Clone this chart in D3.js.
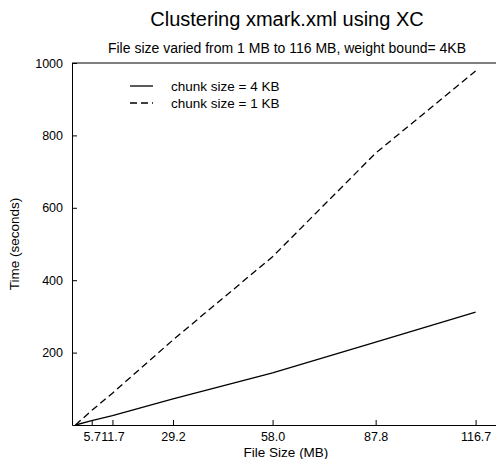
<!DOCTYPE html>
<html>
<head>
<meta charset="utf-8">
<title>Clustering xmark.xml using XC</title>
<script src="https://d3js.org/d3.v7.min.js"></script>
<style>
  body { margin: 0; background: #fff; }
  text { font-family: "Liberation Sans", Arial, Helvetica, sans-serif; fill: #000; }
</style>
</head>
<body>
<div id="wrapper"></div>
<script>
// file sizes (MB) and times (seconds)
const fileSizes = [1, 5.7, 11.7, 29.2, 58.0, 87.8, 116.7];
const chunk4KB  = [0, 12, 26, 72, 144, 229, 312];
const chunk1KB  = [0, 40, 88, 235, 465, 751, 978];
const xTicks = [5.7, 11.7, 29.2, 58.0, 87.8, 116.7];
const yTicks = [200, 400, 600, 800, 1000];
const seriesNames = ["chunk size = 4 KB", "chunk size = 1 KB"];

const dimensions = {
  width: 496,
  height: 459,
  margin: { top: 63, right: 0, bottom: 34, left: 72 }
};
dimensions.boundedWidth = dimensions.width - dimensions.margin.left - dimensions.margin.right;
dimensions.boundedHeight = dimensions.height - dimensions.margin.top - dimensions.margin.bottom;

const wrapper = d3.select("#wrapper").append("svg")
  .attr("width", dimensions.width)
  .attr("height", dimensions.height);

const bounds = wrapper.append("g")
  .attr("transform", `translate(${dimensions.margin.left},${dimensions.margin.top})`);

// x scale runs past the right edge of the picture (plot frame is cut off there)
const xScale = d3.scaleLinear().domain([0, 122.6]).range([0, dimensions.boundedWidth]);
const yScale = d3.scaleLinear().domain([0, 1000]).range([dimensions.boundedHeight, 0]);

const series = [
  { name: seriesNames[0], values: chunk4KB, dash: null },
  { name: seriesNames[1], values: chunk1KB, dash: "7,4" }
];

const lineGenerator = d3.line()
  .x((d, i) => xScale(fileSizes[i]))
  .y(d => yScale(d));

series.forEach(s => {
  bounds.append("path")
    .attr("d", lineGenerator(s.values))
    .attr("fill", "none")
    .attr("stroke", "#000")
    .attr("stroke-width", 1.3)
    .attr("stroke-dasharray", s.dash);
});

// axes, ticks pointing inward
const xAxis = bounds.append("g")
  .attr("transform", `translate(0,${dimensions.boundedHeight})`)
  .call(d3.axisBottom(xScale).tickValues(xTicks).tickFormat(d3.format(".1f"))
    .tickSizeInner(-5).tickSizeOuter(0).tickPadding(7));

const yAxis = bounds.append("g")
  .call(d3.axisLeft(yScale).tickValues(yTicks).tickFormat(d3.format("d"))
    .tickSizeInner(-5).tickSizeOuter(0).tickPadding(9));

[xAxis, yAxis].forEach(a => {
  a.attr("font-family", null).attr("font-size", null);
  a.selectAll("text").style("font-size", "12.5px").attr("fill", "#000");
  a.selectAll("line, path").attr("stroke", "#000");
});

// top frame line
bounds.append("line")
  .attr("x1", 0).attr("x2", dimensions.boundedWidth)
  .attr("y1", 0).attr("y2", 0)
  .attr("stroke", "#000");

// legend
const legend = bounds.append("g").attr("transform", "translate(58,23)");
series.forEach((s, i) => {
  const row = legend.append("g").attr("transform", `translate(0,${i * 17})`);
  row.append("line")
    .attr("x1", 0).attr("x2", 23)
    .attr("stroke", "#000").attr("stroke-width", 1.3)
    .attr("stroke-dasharray", s.dash);
  row.append("text")
    .attr("x", 41).attr("y", 4.5)
    .style("font-size", "13.5px")
    .text(s.name);
});

// titles
wrapper.append("text")
  .attr("x", 287).attr("y", 26)
  .style("text-anchor", "middle").style("font-size", "20px")
  .text("Clustering xmark.xml using XC");

wrapper.append("text")
  .attr("x", 287).attr("y", 53)
  .style("text-anchor", "middle").style("font-size", "14px")
  .text("File size varied from 1 MB to 116 MB, weight bound= 4KB");

wrapper.append("text")
  .attr("x", 286).attr("y", 457)
  .style("text-anchor", "middle").style("font-size", "13.5px")
  .text("File Size (MB)");

wrapper.append("text")
  .attr("transform", "rotate(-90)")
  .attr("x", -244).attr("y", 19)
  .style("text-anchor", "middle").style("font-size", "13.5px")
  .text("Time (seconds)");
</script>
</body>
</html>
